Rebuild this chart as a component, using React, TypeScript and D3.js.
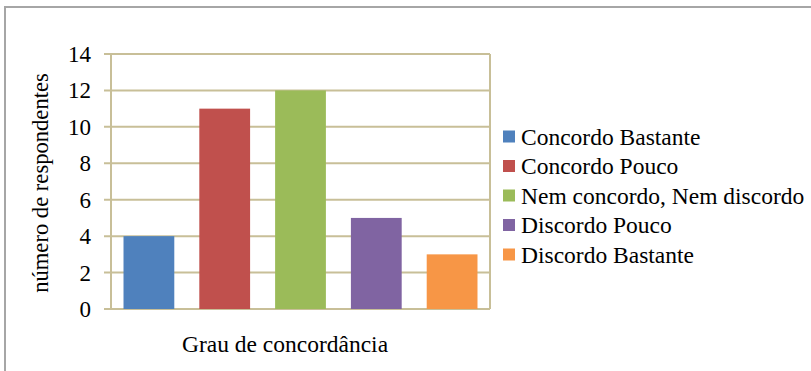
import React, { useEffect, useRef } from 'react';
import * as d3 from 'd3';

const categories = ['Concordo Bastante', 'Concordo Pouco', 'Nem concordo, Nem discordo', 'Discordo Pouco', 'Discordo Bastante'];
const respondentes = [4, 11, 12, 5, 3];
const colors = ['#4f81bd', '#c0504d', '#9bbb59', '#8064a2', '#f79646'];
const yTicks = [0, 2, 4, 6, 8, 10, 12, 14];
const xAxisLabel = 'Grau de concordância';
const yAxisLabel = 'número de respondentes';

const width = 811;
const height = 371;
const margin = { top: 54, right: 321, bottom: 62, left: 111 };
const font = 'Liberation Serif, Tinos, Times New Roman, Times, DejaVu Serif, serif';
const gridColor = '#c8bf98';

export default function App() {
  const ref = useRef<SVGSVGElement>(null);

  useEffect(() => {
    const svg = d3.select(ref.current);
    svg.selectAll('*').remove();

    const scaleX = d3.scaleBand()
      .domain(categories)
      .range([margin.left, width - margin.right])
      .paddingInner(0.33)
      .paddingOuter(0.165);

    const scaleY = d3.scaleLinear()
      .domain([0, 14])
      .range([height - margin.bottom, margin.top]);

    // outer chart frame
    svg.append('rect')
      .attr('x', 5)
      .attr('y', 7)
      .attr('width', width + 10)
      .attr('height', height + 10)
      .attr('fill', 'white')
      .attr('stroke', '#a6a6a6')
      .attr('stroke-width', 2);

    // gridlines with little tick stubs on the left
    svg.append('g')
      .selectAll('line')
      .data(yTicks)
      .enter()
      .append('line')
      .attr('x1', margin.left - 7)
      .attr('x2', width - margin.right)
      .attr('y1', d => scaleY(d))
      .attr('y2', d => scaleY(d))
      .attr('stroke', gridColor)
      .attr('stroke-width', 2);

    // left axis line and right border of plot area
    svg.append('line')
      .attr('x1', margin.left).attr('x2', margin.left)
      .attr('y1', scaleY(14)).attr('y2', scaleY(0))
      .attr('stroke', gridColor).attr('stroke-width', 2);
    svg.append('line')
      .attr('x1', width - margin.right).attr('x2', width - margin.right)
      .attr('y1', scaleY(14)).attr('y2', scaleY(0))
      .attr('stroke', gridColor).attr('stroke-width', 2);

    // bars
    svg.append('g')
      .selectAll('rect')
      .data(categories)
      .enter()
      .append('rect')
      .attr('x', d => scaleX(d)!)
      .attr('y', (d, i) => scaleY(respondentes[i]))
      .attr('width', scaleX.bandwidth())
      .attr('height', (d, i) => scaleY(0) - scaleY(respondentes[i]))
      .attr('fill', (d, i) => colors[i]);

    const txt = svg.append('g').style('font-family', font).attr('fill', '#000');

    // y tick labels
    txt.append('g')
      .selectAll('text')
      .data(yTicks)
      .enter()
      .append('text')
      .attr('x', 91)
      .attr('y', d => scaleY(d))
      .attr('dy', '0.35em')
      .attr('text-anchor', 'end')
      .attr('font-size', 23)
      .text(d => d);

    // axis labels
    txt.append('text')
      .attr('x', 285)
      .attr('y', 352)
      .attr('text-anchor', 'middle')
      .attr('font-size', 23.5)
      .text(xAxisLabel);

    txt.append('text')
      .attr('transform', 'translate(48,183) rotate(-90)')
      .attr('text-anchor', 'middle')
      .attr('font-size', 22.6)
      .text(yAxisLabel);

    // legend
    const legend = txt.append('g')
      .selectAll('g')
      .data(categories)
      .enter()
      .append('g')
      .attr('transform', (d, i) => `translate(503,${136.5 + i * 29.5})`);

    legend.append('rect')
      .attr('x', 0)
      .attr('y', -6)
      .attr('width', 12)
      .attr('height', 12)
      .attr('fill', (d, i) => colors[i]);

    legend.append('text')
      .attr('x', 18)
      .attr('y', 0)
      .attr('dy', '0.35em')
      .attr('font-size', 23.5)
      .text(d => d);
  }, []);

  return (
    <svg
      ref={ref}
      width={width}
      height={height}
      style={{ position: 'absolute', left: 0, top: 0, background: 'white' }}
    />
  );
}
